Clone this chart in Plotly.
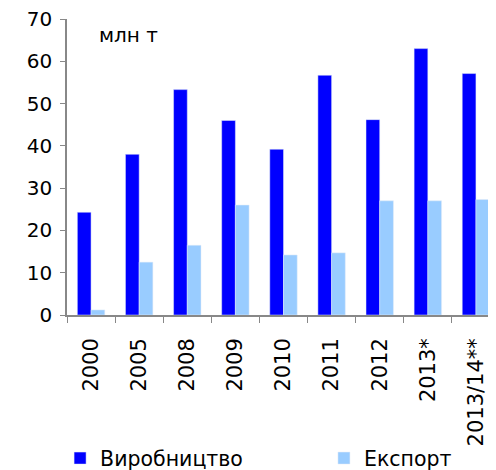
import plotly.graph_objects as go

categories = ["2000", "2005", "2008", "2009", "2010", "2011", "2012", "2013*", "2013/14**"]
production = [24.3, 38.0, 53.3, 46.0, 39.2, 56.7, 46.2, 63.0, 57.1]
export = [1.2, 12.5, 16.5, 26.0, 14.2, 14.7, 27.0, 27.0, 27.3]
y_ticks = [0, 10, 20, 30, 40, 50, 60, 70]

FONT = "DejaVu Sans"
fig = go.Figure()
fig.add_bar(x=categories, y=production, name="Виробництво", marker_color="#0000FF",
            legend="legend")
fig.add_bar(x=categories, y=export, name="Експорт", marker_color="#99CCFF",
            legend="legend2")

leg = dict(orientation="h", xanchor="left", yanchor="middle", y=0.042,
           xref="container", yref="container",
           font=dict(size=20.5, family=FONT), bgcolor="rgba(0,0,0,0)")
fig.update_layout(
    width=496, height=470,
    margin=dict(l=59, r=4, t=11, b=163),
    paper_bgcolor="white", plot_bgcolor="white",
    barmode="group", bargap=0.43, bargroupgap=0,
    font=dict(family=FONT, size=20, color="black"),
    showlegend=True,
    legend=dict(leg, x=0.105),
    legend2=dict(leg, x=0.637),
    annotations=[dict(text="млн т", x=0.07, xref="paper", xanchor="left",
                      y=66.1, yref="y", yanchor="middle", showarrow=False,
                      font=dict(size=20, family=FONT))],
)
fig.update_yaxes(range=[0, 70], tickvals=y_ticks, showgrid=False, zeroline=False,
                 showline=True, linecolor="#888888", linewidth=1.5,
                 ticks="outside", ticklen=5, tickcolor="#888888",
                 ticklabelstandoff=4, automargin=False, ticklabeloverflow="allow")
fig.update_xaxes(showgrid=False, showline=True, linecolor="#888888", linewidth=1.5,
                 ticks="outside", ticklen=6, tickcolor="#888888", tickson="boundaries",
                 tickangle=-90, ticklabelstandoff=13, automargin=False,
                 tickfont=dict(size=21), ticklabeloverflow="allow")
fig.write_html("out.html")
